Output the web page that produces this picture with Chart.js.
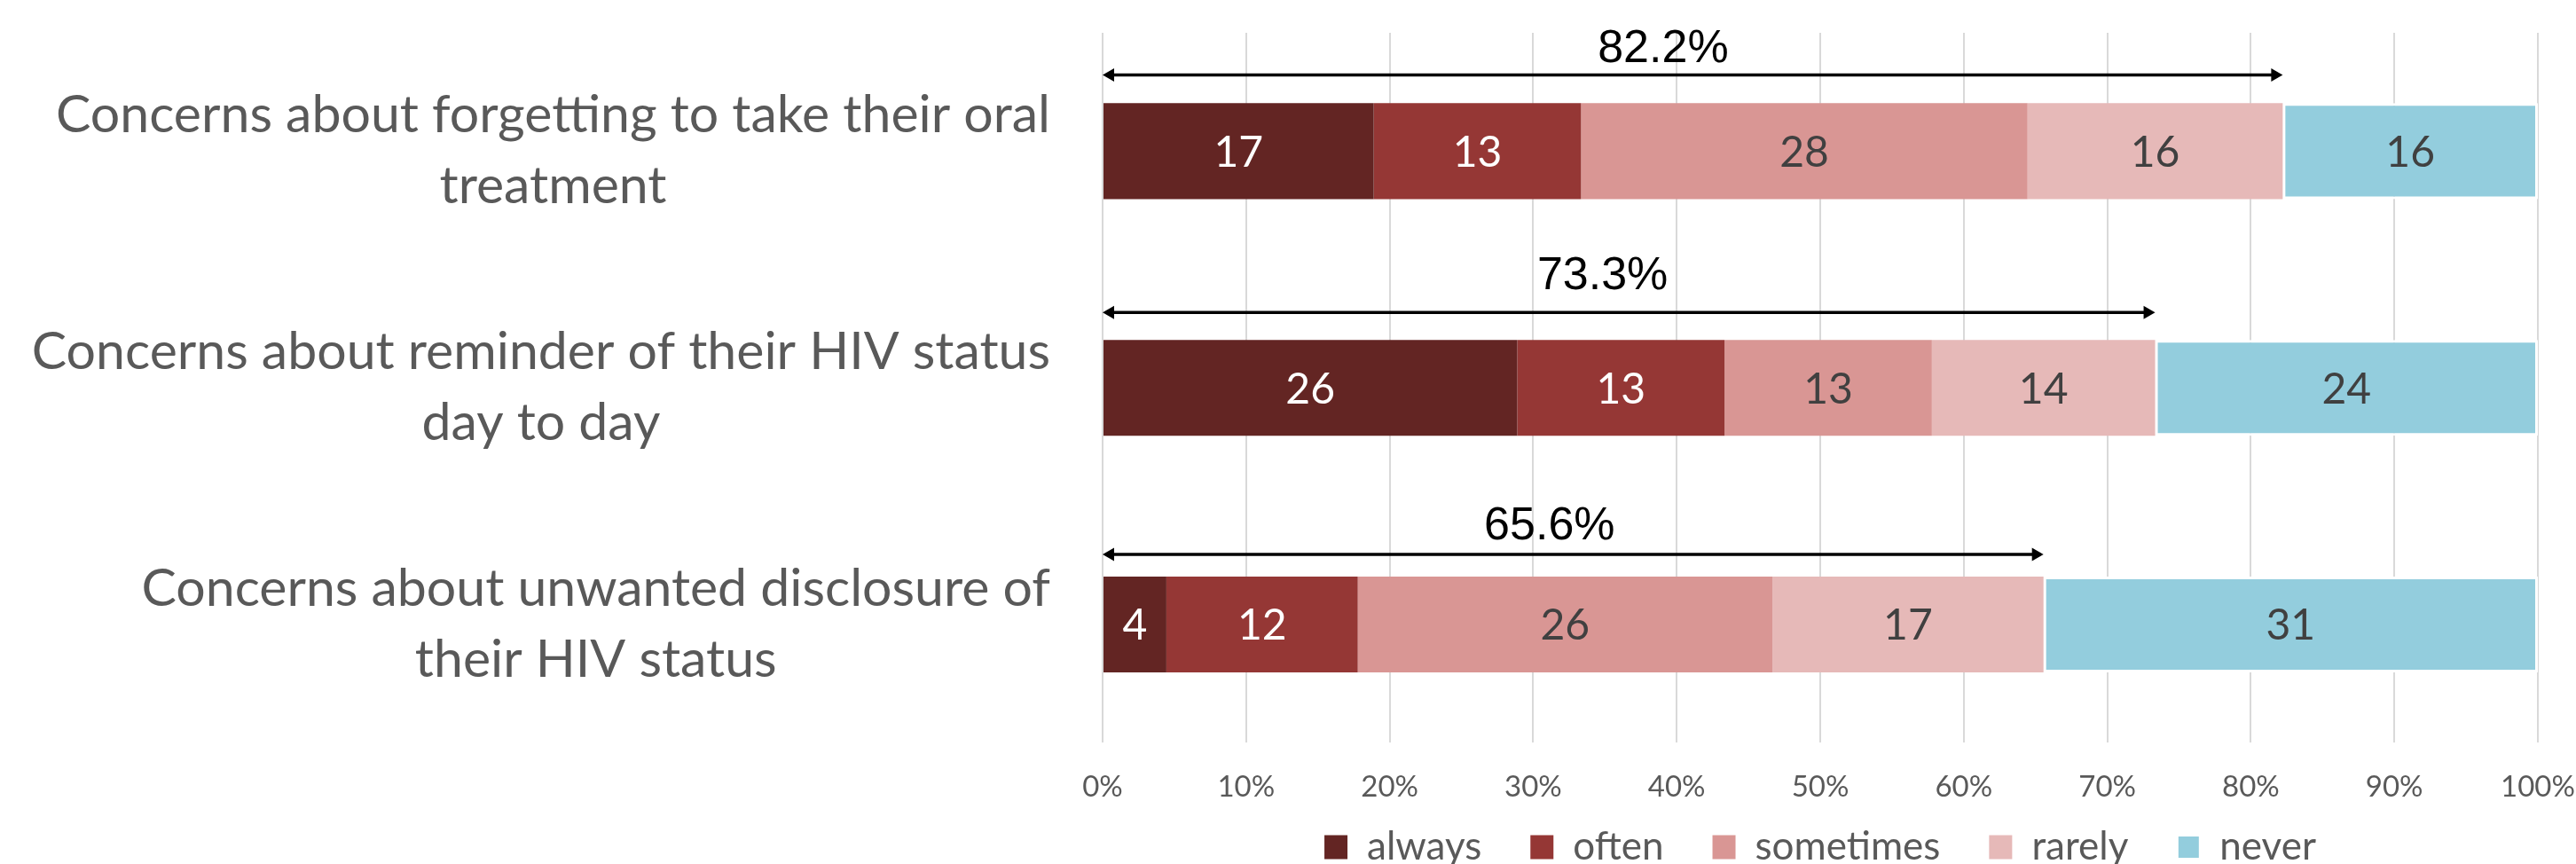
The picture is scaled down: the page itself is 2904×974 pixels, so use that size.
<!DOCTYPE html>
<html>
<head>
<meta charset="utf-8">
<title>Concerns</title>
<script src="https://cdn.jsdelivr.net/npm/chart.js@4.4.1/dist/chart.umd.min.js"></script>
<style>
  html, body { margin: 0; padding: 0; background: #fff; }
  #wrap { width: 2904px; height: 974px; }
</style>
</head>
<body>
<div id="wrap"><canvas id="grafico"></canvas></div>
<script>
// categorias (cada uma quebrada em duas linhas)
const categorias = [
  ['Concerns about forgetting to take their oral', 'treatment'],
  ['Concerns about reminder of their HIV status', 'day to day'],
  ['Concerns about unwanted disclosure of', 'their HIV status']
];

// respostas (número de participantes)
const always = [17, 26, 4];
const often = [13, 13, 12];
const sometimes = [28, 13, 26];
const rarely = [16, 14, 17];
const never = [16, 24, 31];

const seriesNomes = ['always', 'often', 'sometimes', 'rarely', 'never'];
const seriesCores = ['#632523', '#953735', '#D99694', '#E6B9B8', '#93CDDD'];
const ticksX = [0, 10, 20, 30, 40, 50, 60, 70, 80, 90, 100];

const series = [always, often, sometimes, rarely, never];
const totais = categorias.map((c, i) => series.reduce((s, arr) => s + arr[i], 0));
// porcentagem de quem respondeu qualquer coisa menos "never"
const pctPreocupados = categorias.map((c, i) => (totais[i] - never[i]) / totais[i] * 100);

const corTexto = ['#ffffff', '#ffffff', '#404040', '#404040', '#404040'];

const datasets = series.map((arr, k) => ({
  label: seriesNomes[k],
  data: arr.map((v, i) => v / totais[i] * 100),
  contagem: arr,
  backgroundColor: seriesCores[k],
  borderColor: '#ffffff',
  borderWidth: k === 4 ? 3 : 0,
  borderSkipped: false,
  barPercentage: 0.405,
  categoryPercentage: 1
}));

// desenha números nas barras, setas com % e rótulos das categorias
const rotulosPlugin = {
  id: 'rotulos',
  afterLayout(chart) {
    // sobe a legenda para ficar colada nos ticks
    const lg = chart.legend;
    lg.top -= 29;
    lg.bottom -= 29;
  },
  afterDatasetsDraw(chart) {
    const ctx = chart.ctx;
    const xs = chart.scales.x;
    const ys = chart.scales.y;

    ctx.save();
    ctx.textAlign = 'center';
    ctx.textBaseline = 'middle';
    ctx.font = '48px Lato, "Open Sans", sans-serif';
    chart.data.datasets.forEach((ds, k) => {
      const meta = chart.getDatasetMeta(k);
      meta.data.forEach((bar, i) => {
        ctx.fillStyle = corTexto[k];
        ctx.fillText(String(ds.contagem[i]), (bar.x + bar.base) / 2, bar.y + 2);
      });
    });

    // setas
    const setaDy = [-86, -85, -79];
    const textoDy = [-115, -126, -110];
    pctPreocupados.forEach((p, i) => {
      const yc = ys.getPixelForValue(i);
      const x0 = xs.getPixelForValue(0);
      const x1 = xs.getPixelForValue(p);
      const y = yc + setaDy[i];
      ctx.strokeStyle = '#000';
      ctx.fillStyle = '#000';
      ctx.lineWidth = 3.5;
      ctx.beginPath();
      ctx.moveTo(x0 + 8, y);
      ctx.lineTo(x1 - 8, y);
      ctx.stroke();
      ctx.beginPath();
      ctx.moveTo(x0, y);
      ctx.lineTo(x0 + 13, y - 7.5);
      ctx.lineTo(x0 + 13, y + 7.5);
      ctx.closePath();
      ctx.fill();
      ctx.beginPath();
      ctx.moveTo(x1, y);
      ctx.lineTo(x1 - 13, y - 7.5);
      ctx.lineTo(x1 - 13, y + 7.5);
      ctx.closePath();
      ctx.fill();

      ctx.font = '52px "Liberation Sans", Arial, sans-serif';
      ctx.fillText(p.toFixed(1) + '%', x0 + (x1 - x0) * 0.475, yc + textoDy[i]);
    });
    ctx.restore();
  },
  afterDraw(chart) {
    const ctx = chart.ctx;
    const ys = chart.scales.y;
    const direita = chart.chartArea.left - 59;
    ctx.save();
    ctx.font = '59px Lato, "Open Sans", sans-serif';
    ctx.fillStyle = '#595959';
    ctx.textAlign = 'center';
    ctx.textBaseline = 'middle';
    categorias.forEach((linhas, i) => {
      const yc = ys.getPixelForValue(i);
      const largura = Math.max(...linhas.map(l => ctx.measureText(l).width));
      const xc = direita - largura / 2;
      linhas.forEach((l, j) => {
        ctx.fillText(l, xc, yc + (j - (linhas.length - 1) / 2) * 80);
      });
    });
    ctx.restore();
  }
};

Chart.defaults.font.family = 'Lato, "Open Sans", sans-serif';
Chart.defaults.color = '#595959';

const ctx = document.getElementById('grafico').getContext('2d');
const grafico = new Chart(ctx, {
  type: 'bar',
  data: {
    labels: categorias.map(c => c.join(' ')),
    datasets: datasets
  },
  options: {
    indexAxis: 'y',
    responsive: true,
    maintainAspectRatio: false,
    animation: false,
    layout: { padding: { left: 1243, right: 43, top: 37, bottom: -42 } },
    scales: {
      x: {
        stacked: true,
        min: 0,
        max: 100,
        grid: { color: '#d9d9d9', lineWidth: 2, drawTicks: false },
        border: { display: false },
        ticks: {
          padding: 30,
          font: { size: 33 },
          color: '#595959',
          callback: v => v + '%'
        },
        afterBuildTicks: s => { s.ticks = ticksX.map(v => ({ value: v })); },
        afterFit: s => {
          s.paddingLeft = 0;
          s.paddingRight = 0;
          s.height -= 30;
        }
      },
      y: { stacked: true, display: false }
    },
    plugins: {
      legend: {
        position: 'bottom',
        fullSize: false,
        labels: {
          boxWidth: 26,
          boxHeight: 27,
          padding: 55,
          font: { size: 44 },
          color: '#595959'
        }
      },
      tooltip: { enabled: false }
    }
  },
  plugins: [rotulosPlugin]
});
</script>
</body>
</html>
